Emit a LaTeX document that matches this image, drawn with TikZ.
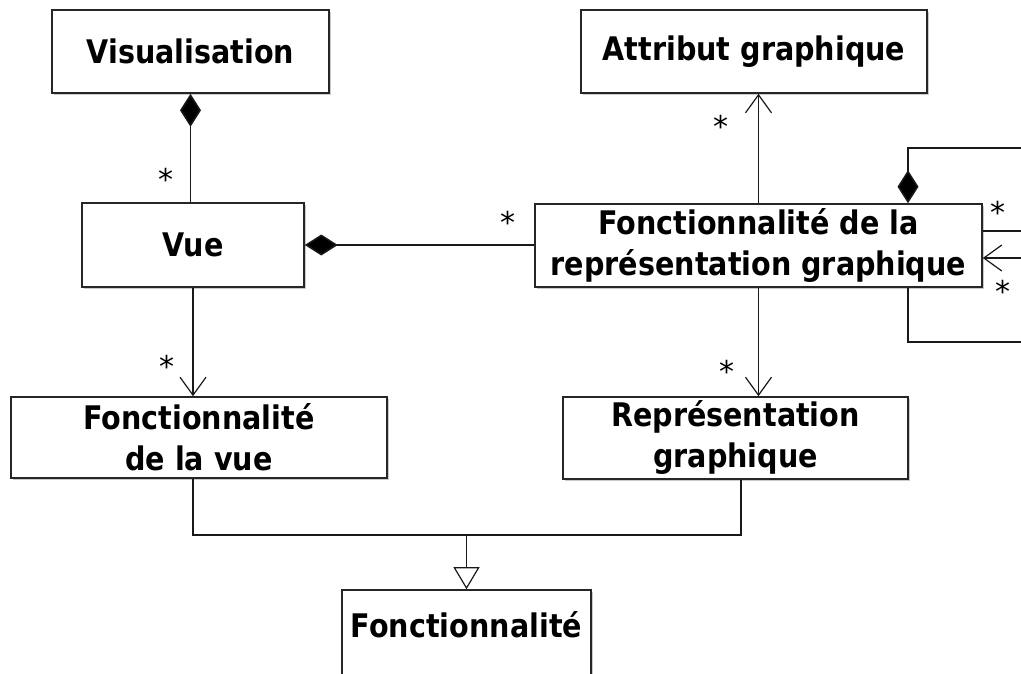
\documentclass[tikz,border=0pt]{standalone}
\usepackage{fontspec}
\setmainfont{DejaVu Sans}[FakeStretch=0.88]
\newfontfamily\starfont{DejaVu Sans}
\usetikzlibrary{arrows.meta,shadows}

\begin{document}
\begin{tikzpicture}[x=1pt,y=-1pt,
  cls/.style={draw=black!85, line width=1.6pt, fill=white, inner sep=0pt,
    align=center, font=\fontsize{32.5}{41}\selectfont\bfseries,
    drop shadow={shadow xshift=1.5pt, shadow yshift=-1.5pt, opacity=0.35, fill=black!60}},
  link/.style={draw=black!90, line width=1.5pt},
  comp/.style={link, {Diamond[length=33pt,width=21pt,fill=black]}-},
  navig/.style={link, -{Straight Barb[length=18pt,width=26pt,line width=1.2pt]}},
  gen/.style={link, -{Triangle[open,length=22pt,width=26pt,fill=white,line width=1.2pt]}},
  mult/.style={inner sep=0pt, anchor=base, font=\starfont\fontsize{30}{30}\selectfont}
]
\useasboundingbox (0,0) rectangle (1021,673);
\clip (0,0) rectangle (1021,673);

% classes
\node[cls, minimum width=277, minimum height=83] (vis) at (190.5,51.5) {Visualisation};
\node[cls, minimum width=222, minimum height=84] (vue) at (193,245) {Vue};
\node[cls, minimum width=346, minimum height=83] (attr) at (754,51.5) {Attribut graphique};
\node[cls, minimum width=447, minimum height=83] (frg) at (758.5,245.5)
  {Fonctionnalité de la\\représentation graphique};
\node[cls, minimum width=376, minimum height=81] (fdlv) at (199,437.5)
  {Fonctionnalité\\de la vue};
\node[cls, minimum width=345, minimum height=82] (rg) at (735.5,438)
  {Représentation\\graphique};
\node[cls, minimum width=249, minimum height=86, text height=24pt, text depth=16pt]
  (fonc) at (466.5,633) {Fonctionnalité};

% compositions
\draw[comp] (vis.south) -- (vis.south |- vue.north);
\draw[comp] (vue.east) -- (vue.east -| frg.west);

% navigable associations
\draw[navig] (frg.north) -- (frg.north |- attr.south);
\draw[navig] (vue.south) -- (vue.south |- fdlv.north);
\draw[navig] (frg.south) -- (frg.south |- rg.north);

% reflexive associations on the graphical representation feature
\coordinate (c1) at (908,148);
\coordinate (c2) at (1050,148);
\coordinate (c3) at (1050,231);
\draw[comp] (frg.north -| c1) -- (c1) -- (c2) -- (c3) -- (c3 -| frg.east);
\coordinate (d1) at (908,342);
\coordinate (d2) at (1050,342);
\coordinate (d3) at (1050,258);
\draw[navig] (frg.south -| d1) -- (d1) -- (d2) -- (d3) -- (d3 -| frg.east);

% generalisation
\coordinate (j) at (466.5,535);
\coordinate (gr) at (741,535);
\draw[link] (vue.south |- fdlv.south) |- (gr) -- (gr |- rg.south);
\draw[gen] (j) -- (fonc.north);

% multiplicities
\node[mult] (m1) at (166,190.5) {*};
\node[mult] (m2) at (508,233) {*};
\node[mult] (m3) at (721,137) {*};
\node[mult] (m4) at (167,377) {*};
\node[mult] (m5) at (727,382) {*};
\node[mult] (m6) at (998,223) {*};
\node[mult] (m7) at (1003,302) {*};
\end{tikzpicture}
\end{document}
